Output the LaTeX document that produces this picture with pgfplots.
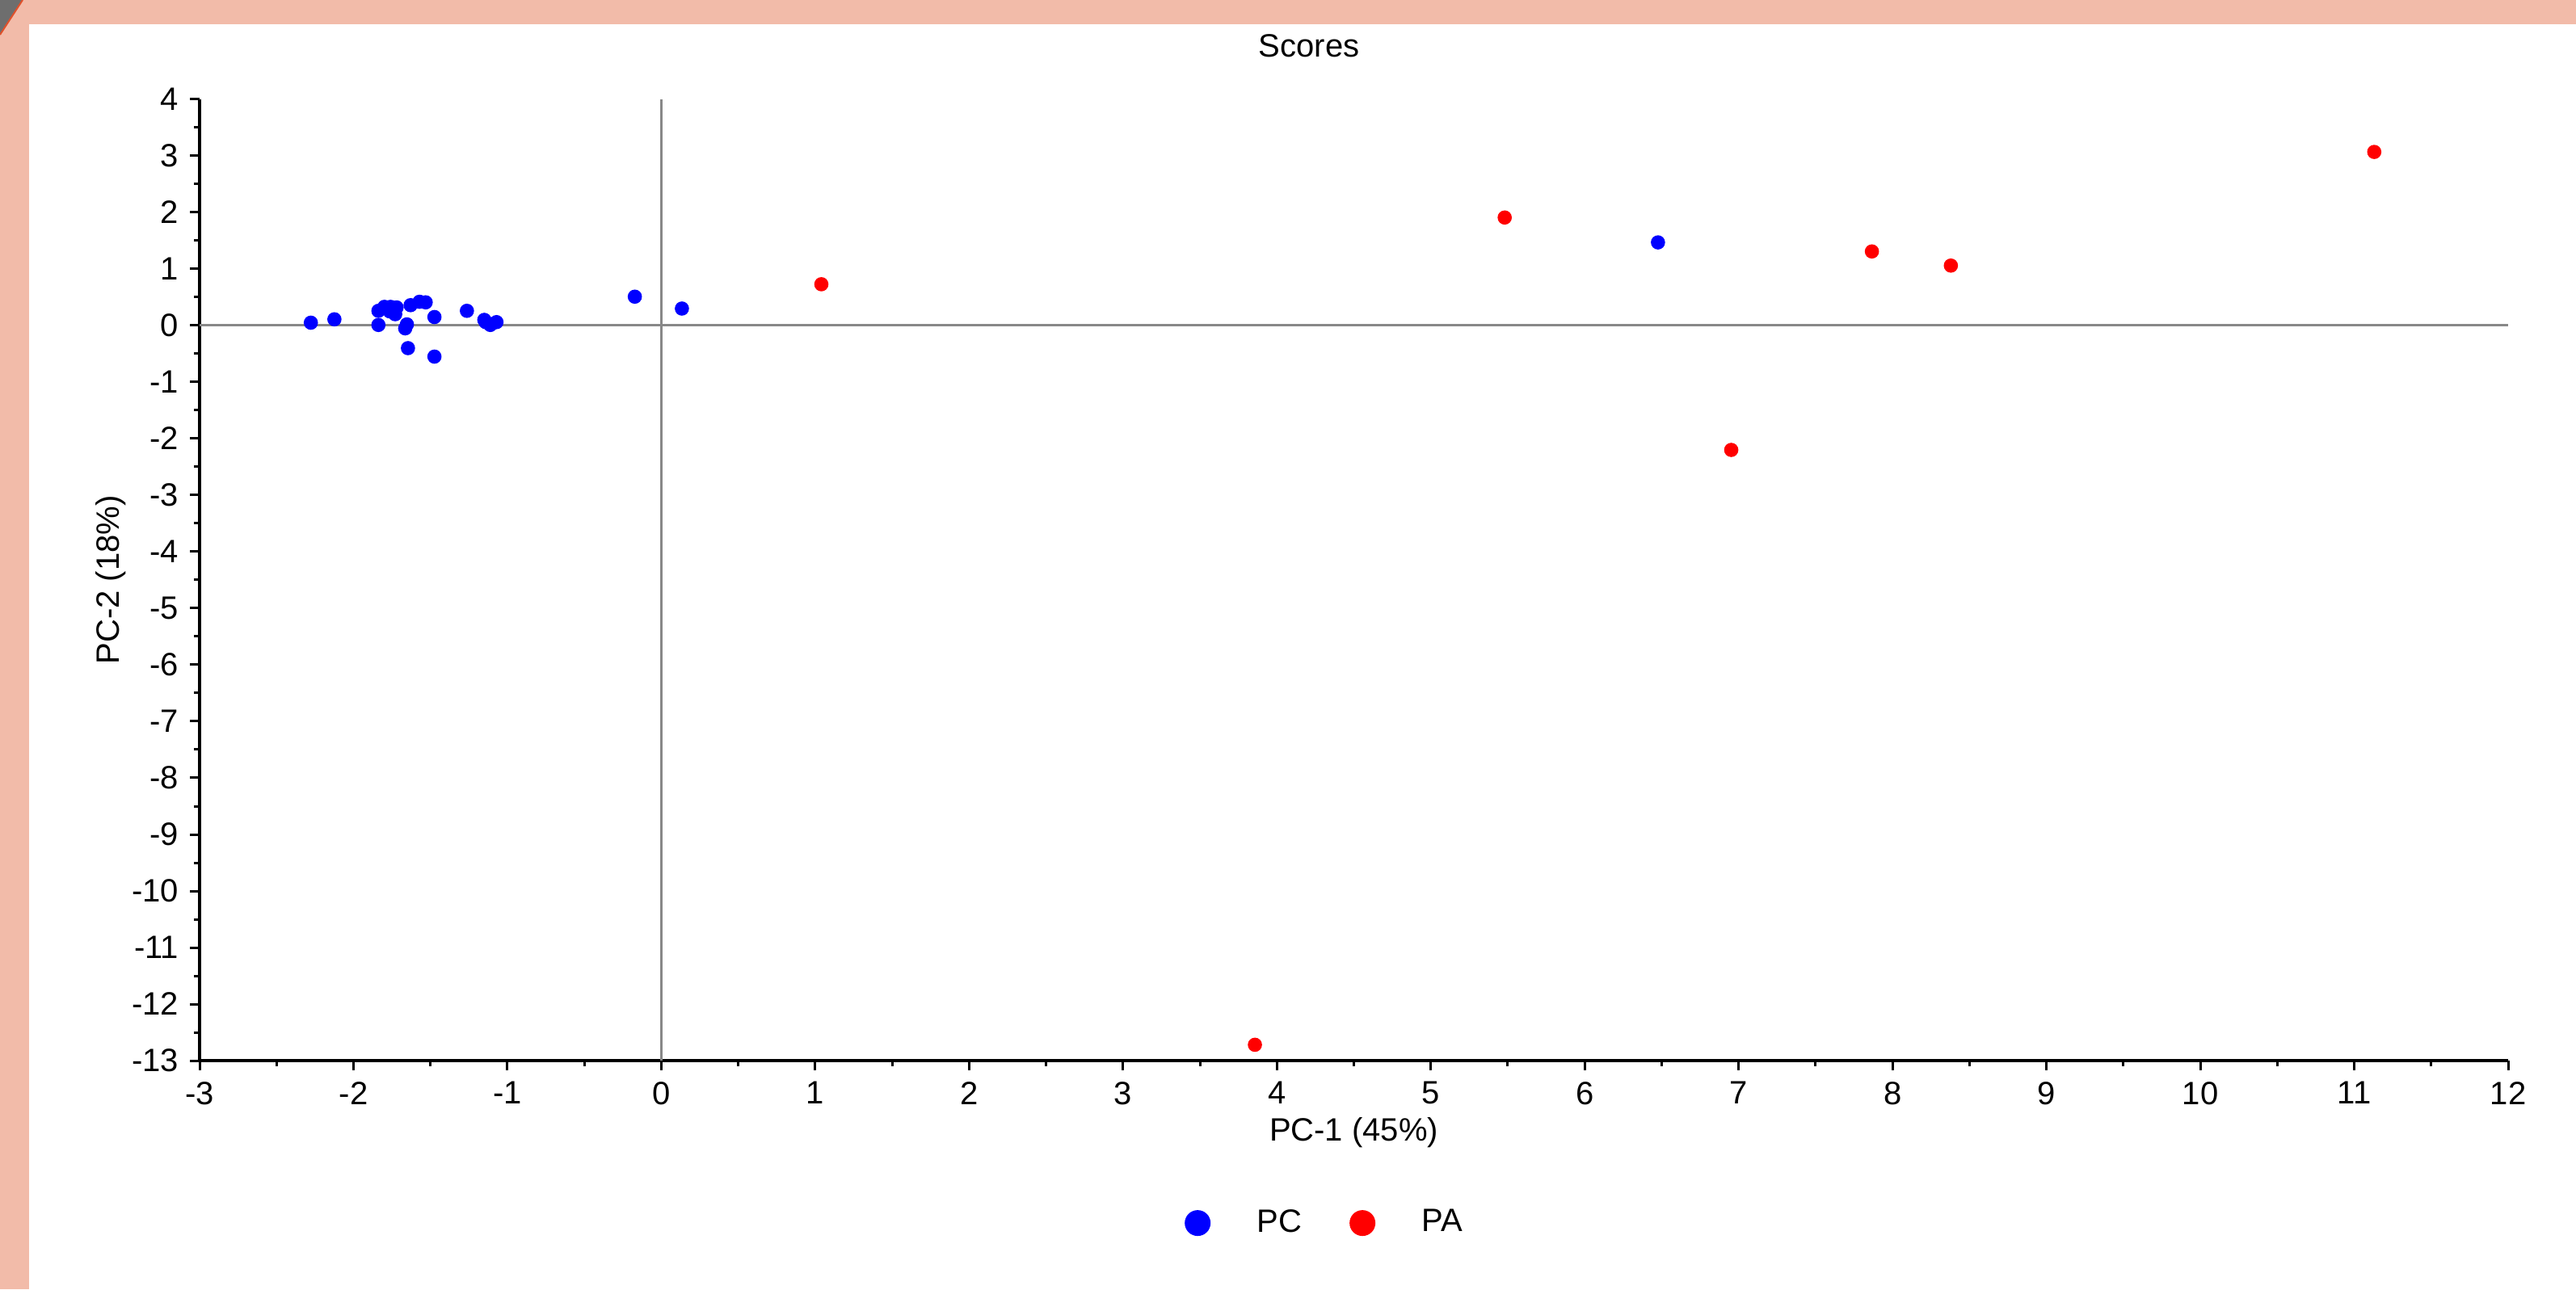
\documentclass[border=0pt]{standalone}
\usepackage{fontspec}
\setmainfont{Liberation Sans}
\usepackage{pgfplots}
\pgfplotsset{compat=1.18}
\definecolor{framecol}{RGB}{242,187,169}
\definecolor{zeroline}{RGB}{136,136,136}
\definecolor{cornercol}{RGB}{110,110,110}
\definecolor{cornerline}{RGB}{224,80,42}

\begin{document}
\begin{tikzpicture}
% page frame (797pt x 399pt)
\useasboundingbox (0pt,0pt) rectangle (797pt,399pt);
\fill[white] (0pt,0pt) rectangle (797pt,399pt);
\fill[framecol] (0pt,391.5pt) rectangle (797pt,399pt);
\fill[framecol] (0pt,0pt) rectangle (9pt,399pt);
\fill[cornercol] (0pt,399pt) -- (7pt,399pt) -- (0pt,388.25pt) -- cycle;
\draw[cornerline, line width=0.5pt] (7pt,399pt) -- (0pt,388.25pt);

\begin{axis}[
    at={(61.75pt,70.75pt)}, anchor=south west,
    scale only axis, width=714.25pt, height=297.5pt,
    xmin=-3, xmax=12, ymin=-13, ymax=4,
    axis x line*=bottom, axis y line*=left,
    axis line style={line width=0.8pt, black},
    xtick={-3,...,12}, ytick={-13,...,4},
    xticklabels={-3,-2,-1,0,1,2,3,4,5,6,7,8,9,10,11,12},
    yticklabels={-13,-12,-11,-10,-9,-8,-7,-6,-5,-4,-3,-2,-1,0,1,2,3,4},
    minor tick num=1,
    tick align=outside,
    major tick length=3pt, minor tick length=1.75pt,
    every tick/.style={black, line width=0.75pt},
    tick label style={font=\fontsize{10}{12}\selectfont},
    title={Scores},
    title style={at={(axis description cs:0.4806,1.024)}, anchor=base, font=\fontsize{10}{12}\selectfont},
    xlabel={PC-1 (45\%)},
    xlabel style={at={(axis description cs:0.5,-0.084)}, anchor=base, font=\fontsize{10}{12}\selectfont},
    ylabel={PC-2 (18\%)},
    ylabel style={at={(axis description cs:-0.0385,0.5)}, anchor=center, font=\fontsize{10}{12}\selectfont},
    legend columns=2,
    legend style={draw=none, fill=none, at={(axis description cs:0.4884,-0.169)}, anchor=center,
        font=\fontsize{10}{12}\selectfont,
        /tikz/every odd column/.append style={column sep=12.5pt},
        /tikz/every even column/.append style={column sep=13pt}},
    legend image code/.code={\draw[#1,mark size=3.8pt] plot coordinates {(0pt,0pt)};},
]
\draw[zeroline, line width=0.75pt] (axis cs:0,-13) -- (axis cs:0,4);
\draw[zeroline, line width=0.75pt] (axis cs:-3,0) -- (axis cs:12,0);

\addplot[only marks, mark=*, mark size=2pt, color=blue] coordinates {
(-2.277,0.05) (-2.124,0.11) (-1.838,0.01) (-1.838,0.26) (-1.799,0.33)
(-1.759,0.33) (-1.720,0.32) (-1.729,0.20) (-1.764,0.25) (-1.629,0.36)
(-1.571,0.42) (-1.531,0.41) (-1.474,0.15) (-1.653,0.02) (-1.664,-0.05)
(-1.646,-0.40) (-1.474,-0.55) (-1.263,0.26) (-1.150,0.10) (-1.141,0.06)
(-1.111,0.01) (-1.071,0.06) (-0.172,0.51) (0.134,0.30) (6.476,1.47)
};
\addlegendentry{PC}
\addplot[only marks, mark=*, mark size=2pt, color=red] coordinates {
(1.04,0.73) (3.857,-12.72) (5.48,1.91) (6.952,-2.20) (7.866,1.31)
(8.379,1.06) (11.13,3.07)
};
\addlegendentry{PA}
\end{axis}
\end{tikzpicture}
\end{document}
